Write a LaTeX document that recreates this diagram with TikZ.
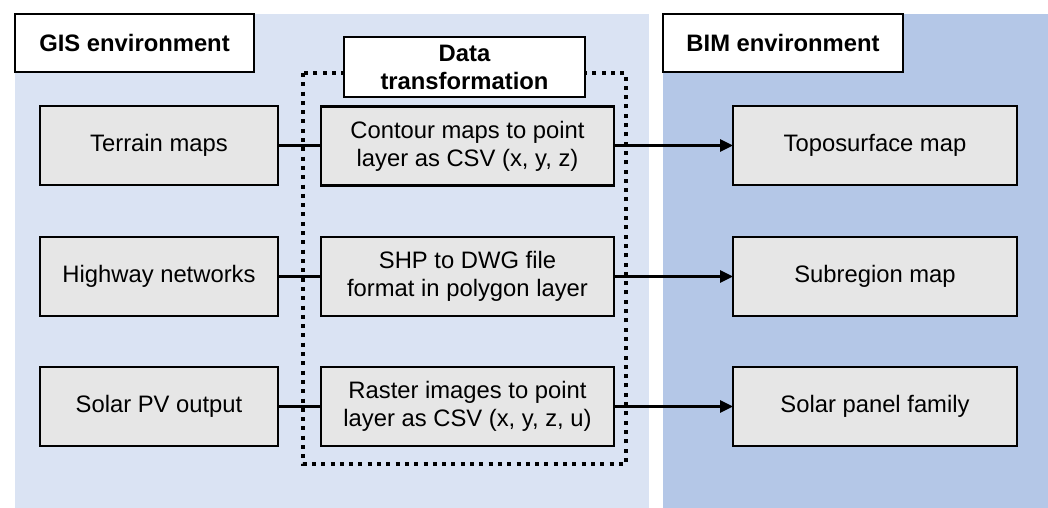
\documentclass[tikz,border=0pt]{standalone}
\usepackage{fontspec}
\setmainfont{Liberation Sans}
\usetikzlibrary{arrows.meta}
\definecolor{gisbg}{HTML}{DAE3F3}
\definecolor{bimbg}{HTML}{B4C7E7}
\definecolor{boxgray}{HTML}{E6E6E6}
\tikzset{
  every node/.style={font=\fontsize{23.8bp}{28bp}\selectfont, outer sep=0pt, inner sep=0pt},
  stagebox/.style={draw=black, line width=2.6bp, fill=boxgray, align=center,
    minimum height=79bp},
  srcbox/.style={stagebox, minimum width=238bp},
  midbox/.style={stagebox, minimum width=293bp},
  dstbox/.style={stagebox, minimum width=284bp},
  envlabel/.style={draw=black, line width=2.6bp, fill=white, align=center,
    font=\fontsize{23.8bp}{28bp}\selectfont\bfseries},
  conn/.style={line width=3bp},
  arrowconn/.style={conn, -{Triangle[length=13bp,width=12bp]}},
  dotbox/.style={line width=4bp, dash pattern=on 4bp off 5.3bp}
}
\begin{document}
\begin{tikzpicture}[x=1bp, y=-1bp]
  % canvas and the two environment panels
  \fill[white] (0,0) rectangle (1048,508);
  \useasboundingbox (0,0) rectangle (1048,508);
  \fill[gisbg] (15,14) rectangle (649,508);
  \fill[bimbg] (663,14) rectangle (1048,508);

  % panel titles
  \node[envlabel, minimum width=239bp, minimum height=58bp] (gis) at (134.5,43) {GIS environment};
  \node[envlabel, minimum width=240bp, minimum height=58bp] (bim) at (783,43) {BIM environment};

  % dotted frame around the transformation steps
  \draw[dotbox] (303,73) rectangle (626,464);
  \node[envlabel, minimum width=241bp, minimum height=60bp] (dt) at (464.5,67) {Data\\transformation};

  % GIS sources
  \node[srcbox] (terrain) at (159,145.5) {Terrain maps};
  \node[srcbox] (highway) at (159,276.5) {Highway networks};
  \node[srcbox] (solar)   at (159,406.5) {Solar PV output};

  % transformation steps
  \node[midbox] (contour) at (467.5,146) {Contour maps to point\\layer as CSV (x, y, z)};
  \node[midbox] (shp)     at (467.5,276.5) {SHP to DWG file\\format in polygon layer};
  \node[midbox] (raster)  at (467.5,406.5) {Raster images to point\\layer as CSV (x, y, z, u)};

  % BIM results
  \node[dstbox] (topo)   at (875,145.5) {Toposurface map};
  \node[dstbox] (subreg) at (875,276.5) {Subregion map};
  \node[dstbox] (panel)  at (875,406.5) {Solar panel family};

  % connectors
  \draw[conn] (terrain.east) -- (terrain.east -| contour.west);
  \draw[conn] (highway) -- (shp);
  \draw[conn] (solar) -- (raster);
  \draw[arrowconn] (contour.east |- topo.west) -- (topo.west);
  \draw[arrowconn] (shp) -- (subreg);
  \draw[arrowconn] (raster) -- (panel);
\end{tikzpicture}
\end{document}
